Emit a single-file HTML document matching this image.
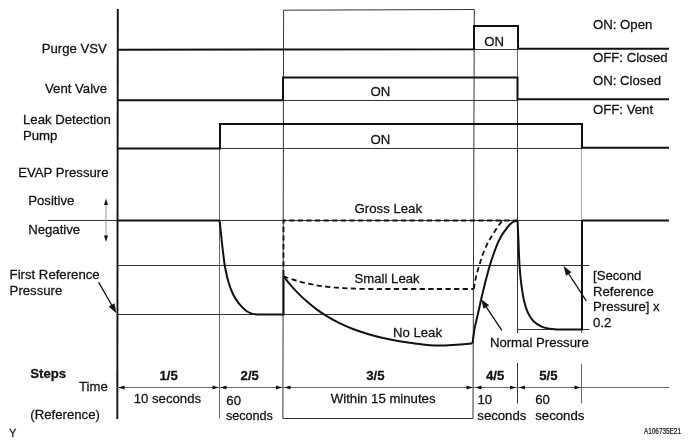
<!DOCTYPE html>
<html><head><meta charset="utf-8">
<style>
html,body{margin:0;padding:0;background:#fff;overflow:hidden;}
svg{display:block;}
text{font-family:"Liberation Sans",Arial,Helvetica,sans-serif;font-size:13.2px;fill:#111;stroke:#111;stroke-width:0.25px;}
.b{font-weight:bold;}
text{transform-box:fill-box;transform-origin:50% 80%;transform:scaleY(1.03);}
.k{stroke:#111;stroke-width:2;fill:none;}
.t{stroke:#333;stroke-width:1;fill:none;}
.g{stroke:#666;stroke-width:1;fill:none;}
.d{stroke:#111;stroke-width:1.8;fill:none;stroke-dasharray:5.2 3.4;}
.ah{fill:#111;stroke:none;}
</style></head>
<body>
<svg width="691" height="446" viewBox="0 0 691 446">
<rect width="691" height="446" fill="#fff"/>

<!-- thin guide lines (drawn first) -->
<path class="t" d="M282.9 418.5L283.6 10.2L474.3 9.5L473 418.5H282.9"/>
<path class="g" d="M219.5 148V418.5"/>
<path class="g" d="M517.5 26V100"/>
<path class="t" d="M517.5 100V333"/>
<path class="t" d="M517.5 363V403.5"/>
<path class="g" style="stroke:#aaa" d="M581.5 148V220"/>
<path class="g" d="M581.5 329V333"/>
<path class="g" d="M581.5 364V403.5"/>
<path class="t" d="M474 49.5H517"/>
<path class="t" d="M283 100.5H517"/>
<path class="t" d="M220 148.5H582"/>
<path class="t" d="M48 220.5H669"/>
<path class="t" d="M117 265.5H589.5"/>
<path class="t" d="M117 314.5H474"/>
<path class="t" d="M517.5 329.5H589.5"/>

<!-- main axis -->
<path class="k" d="M117.8 9L117.3 419" style="stroke-width:1.9"/>

<!-- Purge VSV -->
<path class="k" d="M117 49.7L474 49.2V26H518V48.8H669"/>
<!-- Vent Valve -->
<path class="k" d="M117 100.2H283V77.5H517.5V99.2H669"/>
<!-- Leak detection pump -->
<path class="k" d="M117 148.6H220V124H582V147.8H669"/>

<!-- EVAP signal -->
<path class="k" d="M117 220.5H219.5"/>
<path class="k" d="M219.5 220.5C219.7 221.8 220.1 225.0 220.4 228.0C220.7 231.0 221.0 234.1 221.5 238.6C222.0 243.1 222.8 250.6 223.4 255.1C224.0 259.6 224.0 261.4 224.8 265.7C225.6 270.0 226.8 276.3 228.2 281.0C229.5 285.7 231.1 290.3 232.9 294.0C234.7 297.7 236.7 300.6 238.8 303.4C241.0 306.1 243.7 308.8 245.8 310.5C248.0 312.2 249.7 312.9 251.7 313.6C253.7 314.3 256.9 314.4 258.0 314.5H283.5V275.5"/>
<path class="k" d="M582 220.5H669"/>
<!-- gross leak dashed -->
<path class="d" d="M283.5 275V220.5H517"/>
<!-- small leak dashed -->
<path class="d" d="M283.5 276.3C285.9 277.1 292.5 279.6 297.9 281.1C303.3 282.6 309.8 284.1 315.8 285.2C321.8 286.2 327.8 286.8 333.8 287.4C339.8 287.9 345.7 288.2 351.7 288.5C357.7 288.8 365.3 288.9 370.0 289.0C374.7 289.1 378.3 289.0 380.0 289.0H474"/>
<path class="d" d="M473.8 289.0C473.9 288.2 474.2 286.3 474.6 284.0C475.1 281.7 475.7 278.1 476.5 275.0C477.3 271.9 478.1 269.0 479.2 265.5C480.3 262.0 481.6 257.6 483.0 254.0C484.4 250.3 486.1 246.3 487.4 243.6C488.7 240.9 489.7 239.7 490.8 237.8C491.9 235.9 493.0 234.1 494.2 232.2C495.4 230.3 496.8 228.2 498.0 226.5C499.2 224.8 500.7 222.7 501.6 221.7C502.5 220.7 503.2 220.7 503.5 220.5"/>
<!-- no leak solid -->
<path class="k" d="M283.5 276.2C284.6 277.6 287.6 281.5 290.0 284.3C292.4 287.1 295.2 290.2 298.0 293.1C300.8 296.0 303.8 298.9 307.0 301.6C310.2 304.4 313.5 307.1 317.0 309.6C320.5 312.2 324.2 314.6 328.0 316.9C331.8 319.2 335.8 321.4 340.0 323.4C344.2 325.4 348.5 327.3 353.0 329.0C357.5 330.7 362.2 332.3 367.0 333.8C371.8 335.3 376.8 336.6 382.0 337.8C387.2 339.0 392.5 340.1 398.0 341.0C403.5 341.9 409.7 342.8 415.0 343.5C420.3 344.2 425.0 344.9 430.0 345.2C435.0 345.5 440.0 345.5 445.0 345.4C450.0 345.3 455.4 345.0 460.0 344.6C464.6 344.2 470.4 343.5 472.5 343.3"/>
<path class="k" d="M472.5 343.4C472.7 342.2 473.1 338.5 473.5 336.0C473.9 333.5 473.9 331.8 474.6 328.4C475.3 324.9 476.5 320.1 477.6 315.3C478.7 310.5 480.1 303.8 481.1 299.5C482.1 295.2 482.6 293.2 483.5 289.5C484.4 285.8 485.4 281.5 486.5 277.5C487.6 273.5 488.6 269.4 489.8 265.5C491.0 261.6 492.3 257.6 493.6 254.0C494.9 250.3 496.3 246.5 497.5 243.6C498.7 240.7 499.8 238.8 501.0 236.6C502.2 234.4 503.6 232.6 505.0 230.6C506.4 228.6 508.2 226.3 509.6 224.8C511.0 223.3 512.2 222.3 513.5 221.6C514.8 220.9 516.8 220.7 517.5 220.5"/>
<!-- 5/5 drop -->
<path class="k" d="M517.5 220.5C517.7 224.1 518.2 234.5 518.5 241.9C518.8 249.3 519.0 257.5 519.5 264.7C520.0 271.9 520.6 278.8 521.4 284.9C522.2 290.9 523.0 296.3 524.1 301.0C525.2 305.7 526.5 309.7 528.1 313.1C529.7 316.5 531.2 318.9 533.5 321.2C535.8 323.4 538.9 325.4 541.6 326.6C544.3 327.9 547.2 328.2 549.6 328.7C552.0 329.2 554.9 329.3 556.0 329.4H582V220.5"/>

<!-- pointer arrows -->
<path class="k" style="stroke-width:1.3" d="M98.6 282.1L113.3 308.0"/>
<path class="ah" d="M116.3 313.2L108.7 306.6L114.5 303.3Z"/>
<path class="k" style="stroke-width:1.3" d="M501.8 330.4L484.4 304.1"/>
<path class="ah" d="M481.1 299.1L489.1 305.2L483.6 308.8Z"/>
<path class="k" style="stroke-width:1.3" d="M586.3 300.9L566.9 271.0"/>
<path class="ah" d="M563.6 266.0L571.5 272.2L566.0 275.8Z"/>

<!-- positive/negative double arrow -->
<path class="g" style="stroke:#999" d="M106 201V239"/>
<path class="ah" d="M106 198.5L108 205H104Z"/>
<path class="ah" d="M106 242L108 235.5H104Z"/>

<!-- time line -->
<path class="g" d="M117 387.5H669"/>
<g class="ah">
<path d="M118.5 387.5L124.5 385.5V389.5Z"/>
<path d="M218.5 387.5L212.5 385.5V389.5Z"/>
<path d="M220.5 387.5L226.5 385.5V389.5Z"/>
<path d="M282 387.5L276 385.5V389.5Z"/>
<path d="M284.5 387.5L290.5 385.5V389.5Z"/>
<path d="M472.5 387.5L466.5 385.5V389.5Z"/>
<path d="M475.5 387.5L481.5 385.5V389.5Z"/>
<path d="M516 387.5L510 385.5V389.5Z"/>
<path d="M519 387.5L525 385.5V389.5Z"/>
<path d="M580.5 387.5L574.5 385.5V389.5Z"/>
</g>

<!-- left labels -->
<text x="41.7" y="52.9">Purge VSV</text>
<text x="45" y="93.4">Vent Valve</text>
<text x="23" y="124.5">Leak Detection</text>
<text x="23" y="139.7">Pump</text>
<text x="18.2" y="176.8">EVAP Pressure</text>
<text x="28.2" y="205.4">Positive</text>
<text x="28.2" y="234.2">Negative</text>
<text x="9.6" y="279.1">First Reference</text>
<text x="9.6" y="295.1">Pressure</text>
<text class="b" x="30.2" y="378">Steps</text>
<text x="79" y="391.3">Time</text>
<text x="30.3" y="419">(Reference)</text>
<text x="9.3" y="437" style="font-size:10.5px">Y</text>

<!-- right labels -->
<text x="593" y="28.9">ON: Open</text>
<text x="593" y="62.3">OFF: Closed</text>
<text x="593" y="85.2">ON: Closed</text>
<text x="593" y="113.8">OFF: Vent</text>

<!-- ON labels -->
<text x="484.2" y="45.7">ON</text>
<text x="370.6" y="96.1">ON</text>
<text x="370.6" y="143.9">ON</text>

<!-- curve labels -->
<text x="354.6" y="212.8">Gross Leak</text>
<text x="354.5" y="283.3">Small Leak</text>
<text x="392.9" y="336.6">No Leak</text>
<text x="489.9" y="346.7">Normal Pressure</text>
<text x="593" y="280.4">[Second</text>
<text x="593" y="295.6">Reference</text>
<text x="593" y="311.5">Pressure] x</text>
<text x="593" y="327.1">0.2</text>

<!-- steps -->
<text class="b" x="159.5" y="380.4">1/5</text>
<text class="b" x="240.6" y="380.4">2/5</text>
<text class="b" x="366.3" y="380.4">3/5</text>
<text class="b" x="486" y="380.4">4/5</text>
<text class="b" x="539.2" y="380.4">5/5</text>
<text x="133.7" y="402.7">10 seconds</text>
<text x="226.3" y="404.7">60</text>
<text x="225.9" y="420.1" textLength="47" lengthAdjust="spacingAndGlyphs">seconds</text>
<text x="330.8" y="402.9">Within 15 minutes</text>
<text x="477.5" y="404.1">10</text>
<text x="477.3" y="419.6">seconds</text>
<text x="535.3" y="404.1">60</text>
<text x="535.3" y="419.6">seconds</text>
<text x="644" y="433.7" textLength="37" lengthAdjust="spacingAndGlyphs" style="font-size:8px;stroke-width:0.2px">A106735E21</text>
</svg>
</body></html>
